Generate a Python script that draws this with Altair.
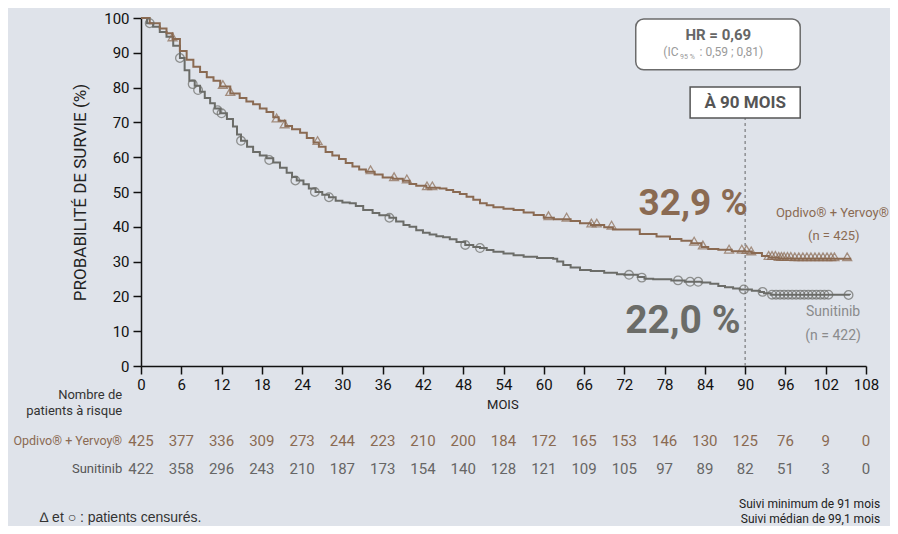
import altair as alt
import pandas as pd

BROWN = "#8a6a52"
GRAY = "#6b6c68"
BG = "#dfe3ea"
FONT = "Roboto"

# ---- Kaplan-Meier curves ----
opdivo_t = [0, 1.3, 2.8, 3.8, 4.7, 5.8, 6.8, 7.8, 8.8, 9.8, 10.8, 11.8, 13.3, 14.7, 15.7, 16.7,
            17.7, 18.7, 19.7, 20.5, 21.5, 22.5, 23.7, 24.7, 25.7, 26.5, 27.5, 28.5, 29.5, 30.5,
            31.5, 32.5, 33.5, 34.8, 36, 37.5, 39, 40, 41, 42.5, 44.5, 45.5, 46.5, 47.5, 48.5,
            49.5, 50.5, 51.5, 52.5, 54, 55.5, 57, 58.5, 60, 61.5, 64, 65.4, 67, 69, 70.3, 74.3,
            76.8, 78.8, 80.5, 82, 83.5, 84.5, 86, 88, 90, 91, 92.5, 93.5, 95, 97, 105.8]
opdivo_s = [100, 98.5, 97, 95.6, 94, 90.5, 88, 86, 84.5, 83, 82, 80.3, 78.3, 77, 76, 75.2,
            74, 73, 71.5, 70.5, 69, 68, 67, 65.5, 64.2, 63, 61.5, 60.5, 59.5, 58.3,
            57.3, 56.5, 55.8, 55, 54.2, 53.8, 53.2, 52.3, 51.8, 51.2, 51, 50.6, 50, 49.4, 48.6,
            47.8, 46.8, 46.2, 45.6, 45.2, 44.8, 44.1, 43.4, 42.6, 42.2, 41.7, 41, 40.5, 39.9, 39.2, 37.9,
            37.2, 36.5, 36, 35.3, 34.2, 33.6, 33.4, 33.0, 32.9, 32.5, 31.6, 31.2, 30.9, 30.8, 30.8]

sun_t = [0, 0.9, 1.8, 2.8, 3.8, 4.8, 5.8, 6.5, 7.2, 8, 8.8, 9.5, 10.3, 11, 11.8, 12.8, 13.7,
         14.3, 14.9, 15.8, 16.7, 17.7, 18.7, 19.7, 20.7, 21.7, 22.5, 23.2, 24.2, 25, 26, 27, 28,
         29, 30, 31.1, 32, 33.1, 34.5, 35.5, 37, 38, 39.1, 40, 41, 42, 43, 44, 45, 46, 47, 48.3,
         49.5, 50.5, 51.5, 52.5, 54, 55.5, 57, 59, 61.4, 62, 62.9, 64, 65.4, 67, 69, 70.9, 72,
         74, 75, 76.3, 79, 81, 83.5, 84.8, 86, 87, 88.2, 89.2, 91, 92.2, 92.8, 93.8, 105.6]
sun_s = [100, 98.5, 97.5, 96, 94.6, 92, 88.5, 85, 82, 80.5, 78.8, 77, 75.5, 74, 72.6, 71, 68.8,
         66.5, 64.7, 63, 61.5, 60.5, 59.7, 58.5, 57, 55.5, 54.3, 53.3, 52.2, 51, 50, 49.2, 48.5,
         47.5, 47, 46.8, 46, 44.8, 44, 43.3, 42.6, 41.5, 40.5, 40, 39, 38.3, 37.8, 37.3, 37, 36.4, 35.6, 34.8,
         34.2, 33.9, 33.3, 32.8, 32.3, 31.8, 31.4, 31, 30.8, 30, 29, 28.3, 27.6, 27.3, 26.8, 26.4, 26.2,
         25.6, 25.1, 24.9, 24.6, 24.2, 24, 23.6, 23, 22.6, 22.3, 22.0, 21.6, 21.3, 20.9, 20.5, 20.4]

# ---- censored patients ----
opdivo_cens_t = [4.7, 12.2, 13.3, 20.2, 21.4, 26.3, 34.2, 37.7, 39.6, 42.6, 43.4, 60.7, 63.4,
                 67.1, 67.9, 70.1, 82.4, 83.7, 87.6, 89.5, 90.2, 90.9, 93.5, 94.0, 94.5, 95.0,
                 95.4, 95.8, 96.3, 96.8, 97.4, 98.0, 98.6, 99.2, 99.8, 100.4, 101.0, 101.6,
                 102.2, 102.8, 103.3, 105.2]
opdivo_cens_s = [94.0, 80.3, 78.3, 70.7, 69.0, 64.2, 55.8, 53.8, 53.2, 51.2, 51.2, 42.6, 42.2,
                 40.5, 40.5, 39.9, 35.3, 34.2, 33.0, 33.0, 32.9, 32.5, 31.2, 31.2, 31.2, 30.9,
                 30.9, 30.9, 30.9, 30.9, 30.8, 30.8, 30.8, 30.8, 30.8, 30.8, 30.8, 30.8,
                 30.8, 30.8, 30.8, 30.8]
sun_cens_t = [1.3, 5.8, 7.7, 8.5, 11.4, 12.0, 14.9, 19.1, 23.0, 25.9, 28.0, 37.0, 48.3, 50.5,
              72.7, 74.6, 80.0, 81.8, 83.0, 89.8, 92.6, 94.0, 94.6, 95.2, 95.8, 96.4, 97.0,
              97.6, 98.2, 98.8, 99.4, 100.0, 100.6, 101.2, 101.8, 102.4, 105.4]
sun_cens_s = [98.5, 88.5, 81.0, 79.3, 73.5, 72.6, 64.7, 59.2, 53.3, 50.0, 48.5, 42.6, 34.8, 33.9,
              26.2, 25.4, 24.6, 24.2, 24.2, 22.0, 21.3, 20.5, 20.5, 20.5, 20.5, 20.5, 20.5,
              20.5, 20.5, 20.5, 20.5, 20.5, 20.5, 20.5, 20.5, 20.5, 20.4]

# ---- numbers at risk ----
risk_months = [0, 6, 12, 18, 24, 30, 36, 42, 48, 54, 60, 66, 72, 78, 84, 90, 96, 102, 108]
risk_opdivo = [425, 377, 336, 309, 273, 244, 223, 210, 200, 184, 172, 165, 153, 146, 130, 125, 76, 9, 0]
risk_sun = [422, 358, 296, 243, 210, 187, 173, 154, 140, 128, 121, 109, 105, 97, 89, 82, 51, 3, 0]

x_ticks = list(range(0, 109, 6))
y_ticks = list(range(0, 101, 10))

xs = alt.Scale(domain=[0, 108], nice=False, zero=False)
ys = alt.Scale(domain=[0, 100], nice=False, zero=False)

x_axis = alt.Axis(values=x_ticks, title=None, labelFontSize=15, labelPadding=3, labelFlush=False,
                  labelOverlap=False)
y_axis = alt.Axis(values=y_ticks, title="PROBABILITÉ DE SURVIE (%)", labelFontSize=15,
                  titleFontSize=17, titleFontWeight="normal", titleColor="#222",
                  titlePadding=14, labelPadding=4, labelFlush=False, labelOverlap=False)


def X(field):
    return alt.X(field, type="quantitative", scale=xs, axis=x_axis)


def Y(field):
    return alt.Y(field, type="quantitative", scale=ys, axis=y_axis)


df_o = pd.DataFrame({"t": opdivo_t, "s": opdivo_s})
df_s = pd.DataFrame({"t": sun_t, "s": sun_s})
df_oc = pd.DataFrame({"t": opdivo_cens_t, "s": opdivo_cens_s})
df_sc = pd.DataFrame({"t": sun_cens_t, "s": sun_cens_s})

# dotted vertical line at 90 months
rule = alt.Chart(pd.DataFrame({"x": [90], "y1": [0], "y2": [71.3]})).mark_rule(
    color="#8d8f92", strokeDash=[3, 3], strokeWidth=1.5
).encode(x=X("x"), y=Y("y1"), y2="y2")

line_o = alt.Chart(df_o).mark_line(interpolate="step-after", color=BROWN, strokeWidth=2).encode(
    x=X("t"), y=Y("s"))
line_s = alt.Chart(df_s).mark_line(interpolate="step-after", color=GRAY, strokeWidth=2).encode(
    x=X("t"), y=Y("s"))

cens_o = alt.Chart(df_oc).mark_point(shape="triangle-up", filled=False, color=BROWN,
                                      size=80, strokeWidth=1.3, yOffset=-2).encode(x=X("t"), y=Y("s"))
cens_s = alt.Chart(df_sc).mark_point(shape="circle", filled=False, color=GRAY,
                                      size=75, strokeWidth=1.3).encode(x=X("t"), y=Y("s"))

# boxes
hr_box = alt.Chart(pd.DataFrame({"x": [73.7], "x2": [98.2], "y": [99.7], "y2": [85.1]})).mark_rect(
    fill="white", stroke="#6b6b6b", strokeWidth=1.5, cornerRadius=8
).encode(x=X("x"), x2="x2", y=Y("y"), y2="y2")
m90_box = alt.Chart(pd.DataFrame({"x": [81.8], "x2": [98.2], "y": [80.2], "y2": [71.3]})).mark_rect(
    fill="white", stroke="#555555", strokeWidth=1.5
).encode(x=X("x"), x2="x2", y=Y("y"), y2="y2")


def text_layer(rows, **kw):
    df = pd.DataFrame(rows, columns=["x", "y", "label"])
    base = dict(font=FONT)
    base.update(kw)
    return alt.Chart(df).mark_text(**base).encode(x=X("x"), y=Y("y"), text="label:N")


texts = [
    text_layer([(86.0, 95.1, "HR = 0,69")], fontSize=15, fontWeight="bold", color="#666666",
               baseline="middle"),
    text_layer([(77.8, 90.2, "(IC")], fontSize=12, color="#9a9a9a", align="left", baseline="middle"),
    text_layer([(80.3, 88.7, "95 %")], fontSize=7, color="#9a9a9a", align="left", baseline="middle"),
    text_layer([(83.2, 90.2, ": 0,59 ; 0,81)")], fontSize=12, color="#9a9a9a", align="left",
               baseline="middle"),
    text_layer([(90.0, 75.7, "À 90 MOIS")], fontSize=17, fontWeight="bold", color="#555555",
               baseline="middle"),
    text_layer([(90.4, 43.3, "32,9 %")], fontSize=37, fontWeight="bold", color=BROWN,
               align="right", baseline="alphabetic"),
    text_layer([(89.3, 9.5, "22,0 %")], fontSize=39, fontWeight="bold", color=GRAY,
               align="right", baseline="alphabetic"),
    text_layer([(103.0, 44.0, "Opdivo® + Yervoy®"), (103.2, 37.4, "(n = 425)")],
               fontSize=13, color=BROWN, baseline="middle"),
    text_layer([(103.1, 15.5, "Sunitinib"), (103.1, 8.6, "(n = 422)")],
               fontSize=14, color="#8a8b8c", baseline="middle"),
    text_layer([(53.9, -11.2, "MOIS")], fontSize=13, color="#222", baseline="middle"),
    text_layer([(-2.8, -8.3, "Nombre de"), (-2.8, -12.9, "patients à risque")],
               fontSize=13, color="#333", align="right", baseline="middle"),
    text_layer([(-2.8, -21.6, "Opdivo® + Yervoy®")], fontSize=12.5, color=BROWN,
               align="right", baseline="middle"),
    text_layer([(-2.8, -29.6, "Sunitinib")], fontSize=13, color="#555", align="right",
               baseline="middle"),
    text_layer([(m, -21.6, str(v)) for m, v in zip(risk_months, risk_opdivo)],
               fontSize=15, color=BROWN, baseline="middle"),
    text_layer([(m, -29.6, str(v)) for m, v in zip(risk_months, risk_sun)],
               fontSize=15, color="#666", baseline="middle"),
    text_layer([(-15.1, -43.7, "∆ et ○ : patients censurés.")], font="Liberation Sans",
               fontSize=14, color="#333", align="left", baseline="middle"),
    text_layer([(110.1, -39.6, "Suivi minimum de 91 mois"), (110.1, -44.0, "Suivi médian de 99,1 mois")],
               fontSize=12, color="#222", align="right", baseline="middle"),
]

chart = alt.layer(rule, line_s, line_o, cens_s, cens_o, hr_box, m90_box, *texts).properties(
    width=725, height=348,
    padding={"left": 133, "top": 10, "right": 24, "bottom": 160},
    autosize=alt.AutoSizeParams(type="none"),
    background=BG,
).configure_view(stroke=None).configure_axis(
    grid=False, domainColor="#111", domainWidth=1.5, tickColor="#111", tickWidth=1.5,
    tickSize=8, labelFont=FONT, labelColor="#111", titleFont=FONT
)

chart.save("out.html", embed_options={"renderer": "svg", "actions": False})
